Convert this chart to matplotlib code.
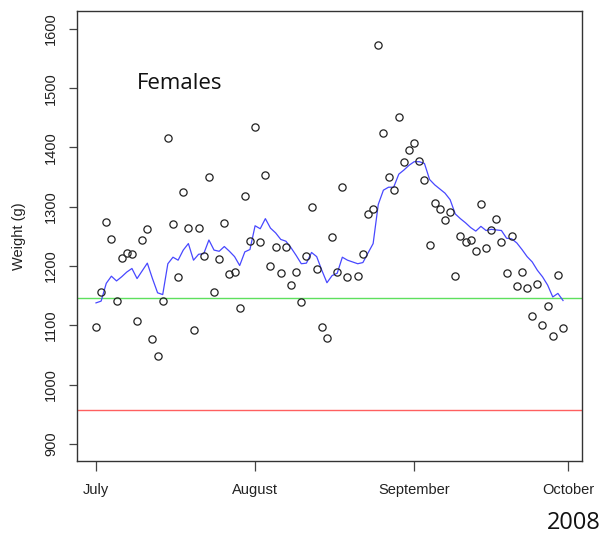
import numpy as np
import pandas as pd
import matplotlib
matplotlib.use("Agg")
import matplotlib.pyplot as plt

# ---- data ----
start_date = "2008-07-01"
weights = [1097, 1157, 1275, 1246, 1142, 1213, 1222, 1220, 1108, 1244,
           1262, 1077, 1048, 1142, 1416, 1271, 1181, 1325, 1264, 1092,
           1264, 1217, 1350, 1157, 1212, 1272, 1186, 1190, 1129, 1319,
           1242, 1434, 1240, 1353, 1200, 1233, 1188, 1233, 1168, 1190,
           1140, 1217, 1299, 1195, 1097, 1079, 1249, 1190, 1334, 1181,
           np.nan, 1183, 1220, 1288, 1296, 1573, 1425, 1351, 1328, 1451,
           1376, 1395, 1408, 1378, 1345, 1236, 1307, 1296, 1277, 1292,
           1184, 1250, 1241, 1244, 1225, 1304, 1230, 1261, 1280, 1241,
           1189, 1251, 1166, 1190, 1163, 1116, 1170, 1100, 1132, 1083,
           1185, 1096]
trend = [1138, 1141, 1171, 1183, 1175, 1182, 1190, 1196, 1179, 1192,
         1205, 1179, 1155, 1152, 1204, 1215, 1210, 1227, 1238, 1210,
         1220, 1221, 1244, 1227, 1225, 1233, 1225, 1216, 1201, 1224,
         1228, 1268, 1263, 1280, 1264, 1256, 1245, 1242, 1231, 1218,
         1204, 1205, 1223, 1216, 1193, 1172, 1184, 1188, 1215, 1210,
         1207, 1204, 1206, 1222, 1238, 1304, 1328, 1333, 1333, 1355,
         1362, 1370, 1376, 1376, 1373, 1346, 1337, 1330, 1323, 1312,
         1288, 1280, 1273, 1265, 1259, 1267, 1260, 1262, 1261, 1260,
         1247, 1246, 1239, 1228, 1216, 1207, 1193, 1182, 1168, 1148,
         1154, 1142]
green_level = 1147
red_level = 957
month_ticks = ["2008-07-01", "2008-08-01", "2008-09-01", "2008-10-01"]
month_labels = ["July", "August", "September", "October"]
y_ticks = [900, 1000, 1100, 1200, 1300, 1400, 1500, 1600]
title_text = "Females"
year_text = "2008"

dates = pd.date_range(start_date, periods=len(weights), freq="D")

# ---- figure ----
fig = plt.figure(figsize=(6.03, 5.35), dpi=100)
ax = fig.add_axes([0.1272, 0.1389, 0.9652 - 0.1272, 0.9794 - 0.1389])

tick_font = "Liberation Sans"
ax.axhline(green_level, color="#5ee05e", lw=1.0, zorder=1)
ax.axhline(red_level, color="#ff6060", lw=1.0, zorder=1)
ax.plot(dates, trend, color="#4848ff", lw=0.9, zorder=2)
ax.plot(dates, weights, linestyle="none", marker="o", markersize=5.2,
        markerfacecolor="none", markeredgecolor="#222222", markeredgewidth=0.9,
        zorder=3)

x0 = pd.Timestamp(start_date)
ax.set_xlim(x0 - pd.Timedelta(days=3.76), x0 + pd.Timedelta(days=94.7))
ax.set_ylim(872, 1630)

ax.set_xticks([pd.Timestamp(d) for d in month_ticks])
ax.set_xticklabels(month_labels, fontfamily=tick_font, fontsize=10.5, color="#222222")
ax.set_yticks(y_ticks)
ax.set_yticklabels([str(v) for v in y_ticks], rotation=90, va="center",
                   fontfamily=tick_font, fontsize=10.5, color="#222222")
ax.tick_params(axis="x", length=7, width=0.9, color="#444444", pad=9)
ax.tick_params(axis="y", length=6, width=0.9, color="#444444", pad=7.5)
for s in ax.spines.values():
    s.set_color("#333333")
    s.set_linewidth(1.0)

ax.set_ylabel("Weight (g)", fontfamily=tick_font, fontsize=10.5, color="#222222", labelpad=13)

ax.text(0.119, 0.838, title_text, transform=ax.transAxes, fontfamily="Open Sans",
        fontsize=16, color="#111111", ha="left", va="center")
fig.text(0.997, 0.022, year_text, fontfamily="Open Sans", fontsize=17,
         color="#111111", ha="right", va="center")

fig.savefig("out.png", dpi=100)
